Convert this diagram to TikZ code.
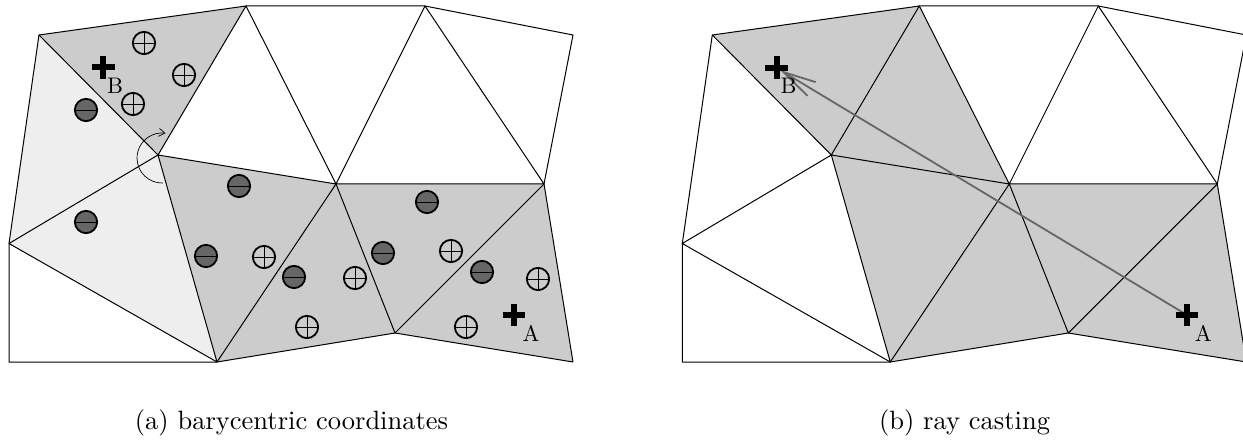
\documentclass[tikz,border=0pt]{standalone}
\usetikzlibrary{arrows.meta}
\definecolor{midg}{gray}{0.8}
\definecolor{lightg}{gray}{0.933}
\definecolor{darkg}{gray}{0.4}
\definecolor{rayg}{gray}{0.4}
\tikzset{
  edge/.style={line width=1pt, line join=round, draw=black},
  midfill/.style={fill=midg},
  lightfill/.style={fill=lightg},
  pc/.style={circle, draw=black, line width=1.8pt, minimum size=22.3pt, inner sep=0pt,
    path picture={\draw[line width=0.9pt]
      (path picture bounding box.north) -- (path picture bounding box.south)
      (path picture bounding box.west) -- (path picture bounding box.east);}},
  mc/.style={circle, draw=black, fill=darkg, line width=1.8pt, minimum size=22.3pt, inner sep=0pt,
    path picture={\draw[line width=0.9pt]
      (path picture bounding box.west) -- (path picture bounding box.east);}},
  crossline/.style={line width=6pt, draw=black},
  lbl/.style={font=\fontsize{10}{12}\selectfont, inner sep=0pt, scale=2.25},
  captext/.style={font=\fontsize{10}{12}\selectfont, inner sep=0pt, anchor=base, scale=2.65},
  ray/.style={line width=1.8pt, draw=rayg, -{Straight Barb[length=33pt,width=16pt,line width=1.8pt]}},
  turn/.style={line width=0.7pt, draw=black, -{Straight Barb[length=6pt,width=8pt]}}
}
\newcommand\meshpts{%
  \coordinate (p1) at (39,35);
  \coordinate (p2) at (246,6);
  \coordinate (p3) at (158,155);
  \coordinate (p4) at (9,243.5);
  \coordinate (p5) at (9,362);
  \coordinate (p6) at (217,362);
  \coordinate (p7) at (336,184);
  \coordinate (p8) at (425,6);
  \coordinate (p9) at (573,35);
  \coordinate (p10) at (544,184);
  \coordinate (p11) at (395,333);
  \coordinate (p12) at (573,362);
}
\newcommand\meshedges{%
  \draw[edge] (p1)--(p2)--(p8)--(p9)--(p10)--(p12)--(p11)--(p6)--(p5)--(p4)--cycle;
  \draw[edge] (p1)--(p3)--(p2)--(p7)--(p8)--(p10)--(p7)--(p3)--(p4)--(p6)--(p3);
  \draw[edge] (p6)--(p7)--(p11)--(p10);
}
\newcommand\crossmark[1]{%
  \draw[crossline] ([xshift=-11.3pt]#1) -- ([xshift=11.3pt]#1)
                   ([yshift=-11.3pt]#1) -- ([yshift=11.3pt]#1);
}
\begin{document}
\begin{tikzpicture}[x=1pt,y=-1pt]
\useasboundingbox (0,0) rectangle (1243,441);
% ---------- left panel ----------
\begin{scope}[name prefix=l-]
  \meshpts
  \fill[midfill] (p1)--(p2)--(p3)--cycle;
  \fill[lightfill] (p1)--(p3)--(p4)--cycle;
  \fill[lightfill] (p4)--(p3)--(p6)--cycle;
  \fill[midfill] (p3)--(p7)--(p6)--cycle;
  \fill[midfill] (p6)--(p7)--(p11)--cycle;
  \fill[midfill] (p7)--(p10)--(p11)--cycle;
  \fill[midfill] (p10)--(p12)--(p11)--cycle;
  \meshedges
  \draw[turn] (162.9,183) arc[start angle=88, end angle=278, radius=25];
  % plus circles
  \node[pc] (c1) at (144,43) {};
  \node[pc] (c2) at (184,75) {};
  \node[pc] (c3) at (133,104) {};
  \node[pc] (c4) at (264,257) {};
  \node[pc] (c5) at (307,327) {};
  \node[pc] (c6) at (355,278) {};
  \node[pc] (c7) at (451,251) {};
  \node[pc] (c8) at (466,327) {};
  \node[pc] (c9) at (538,279) {};
  % minus circles
  \node[mc] (m1) at (86,110) {};
  \node[mc] (m2) at (86,222) {};
  \node[mc] (m3) at (239,186) {};
  \node[mc] (m4) at (206,256) {};
  \node[mc] (m5) at (294,277) {};
  \node[mc] (m6) at (427,202) {};
  \node[mc] (m7) at (383,253) {};
  \node[mc] (m8) at (482,272) {};
  % points
  \coordinate (B) at (103.3,67.3);
  \coordinate (A) at (514,315);
  \crossmark{B}
  \crossmark{A}
  \node[lbl] (Bl) at (115,86) {B};
  \node[lbl] (Al) at (531,333) {A};
\end{scope}
\node[captext] (capa) at (291.5,429.5) {(a) barycentric coordinates};
% ---------- right panel ----------
\begin{scope}[xshift=673.3pt, name prefix=r-]
  \meshpts
  \fill[midfill] (p1)--(p2)--(p3)--cycle;
  \fill[midfill] (p2)--(p7)--(p3)--cycle;
  \fill[midfill] (p3)--(p7)--(p6)--cycle;
  \fill[midfill] (p6)--(p7)--(p11)--cycle;
  \fill[midfill] (p7)--(p10)--(p11)--cycle;
  \fill[midfill] (p10)--(p12)--(p11)--cycle;
  \meshedges
  \coordinate (B) at (103.4,67.7);
  \coordinate (Btip) at (106.7,70);
  \coordinate (A) at (513.7,315);
  \draw[ray] (A) -- (Btip);
  \crossmark{B}
  \crossmark{A}
  \node[lbl] (Bl) at (115.4,86) {B};
  \node[lbl] (Al) at (530,333) {A};
\end{scope}
\node[captext] (capb) at (964.5,429.5) {(b) ray casting};
\end{tikzpicture}
\end{document}
